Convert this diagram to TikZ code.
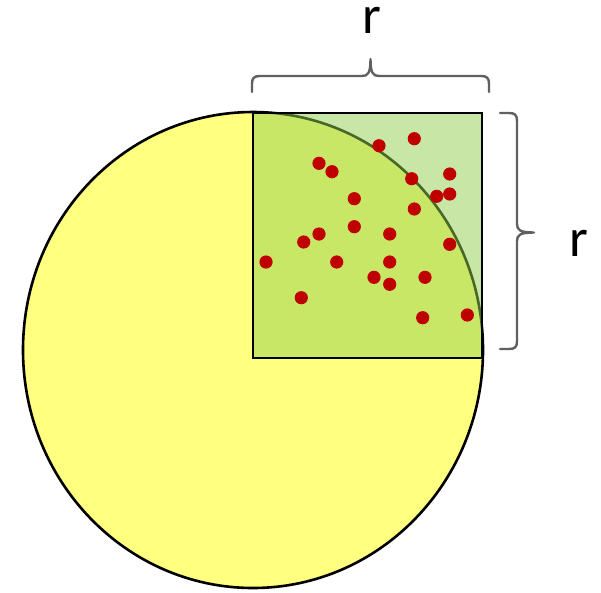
\documentclass[tikz,border=0pt]{standalone}
\usepackage{fontspec}
\setmainfont{Carlito}
\definecolor{disk}{RGB}{255,255,128}
\definecolor{sqgreen}{RGB}{146,208,80}
\definecolor{dotred}{RGB}{192,0,0}
\definecolor{bracegray}{RGB}{96,96,96}
\begin{document}
\begin{tikzpicture}[x=1pt,y=-1pt,
  dot/.style={fill=dotred,draw=none},
  bracestyle/.style={draw=bracegray,line width=2.4pt,line cap=round,line join=round},
  lbl/.style={inner sep=0pt,anchor=base,text height=26pt,text depth=0pt,font=\fontsize{54}{60}\selectfont}]
\useasboundingbox (0,0) rectangle (601,592);
% disk
\draw[fill=disk,line width=2.6pt] (253,350) ellipse [x radius=230,y radius=238];
% square
\draw[fill=sqgreen,fill opacity=0.5,line width=2.6pt] (253,113) rectangle (482,358);
% dots
\foreach \x/\y in {379/145.7,414.3/138.7,319/163.3,332/171.7,411.7/178.7,449.7/174,
  436.7/196.3,449.7/194,354.3/198.7,414.3/209,354.3/226.7,319/234,303.7/242,
  389.7/234,449.7/244.3,266/262,336.7/262,389.7/262,374/277.3,389.7/284.3,
  425/277.3,301.3/297.7,422.7/317.7,467.3/315}
  \fill[dot] (\x,\y) circle (6.6);
% top brace
\draw[bracestyle] (252,92) -- (252,84) .. controls (252,78) and (254,76) .. (260,76)
  -- (362,76) .. controls (368,76) and (370.5,73) .. (370.5,59)
  .. controls (370.5,73) and (373,76) .. (379,76)
  -- (481,76) .. controls (487,76) and (489,78) .. (489,84) -- (489,92);
% right brace
\draw[bracestyle] (500,113) -- (509,113) .. controls (515,113) and (517,115) .. (517,121)
  -- (517,224) .. controls (517,230) and (520,232.5) .. (534,232.5)
  .. controls (520,232.5) and (517,235) .. (517,241)
  -- (517,341) .. controls (517,347) and (515,349) .. (509,349) -- (500,349);
\node[lbl] (rtop) at (372,33) {r};
\node[lbl] (rright) at (579,256) {r};
\end{tikzpicture}
\end{document}
